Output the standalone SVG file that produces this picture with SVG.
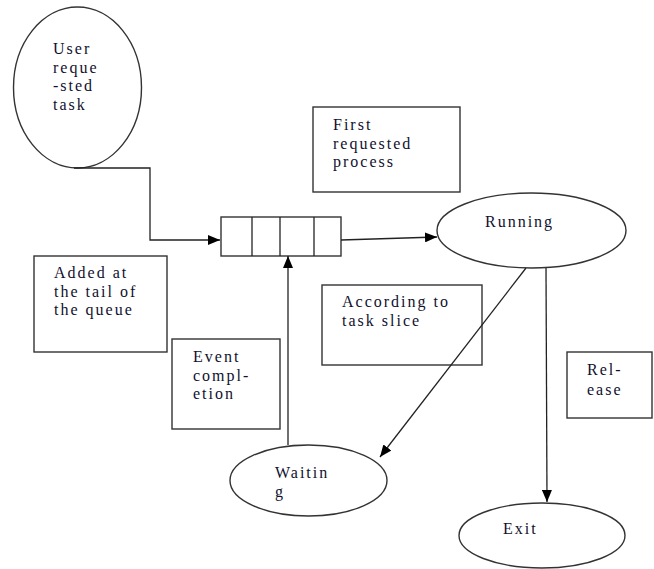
<svg xmlns="http://www.w3.org/2000/svg" width="654" height="569" viewBox="0 0 654 569">
<style>
.shape{fill:#fff;stroke:#333;stroke-width:1.4}
.line{fill:none;stroke:#222;stroke-width:1.3}
text{font-family:"Liberation Serif","Times New Roman",serif;font-size:16px;letter-spacing:2px;fill:#10102e}
</style>
<defs>
<marker id="arr" viewBox="0 0 12 10" refX="12" refY="5" markerWidth="12" markerHeight="10" markerUnits="userSpaceOnUse" orient="auto">
<path d="M0,0 L12,5 L0,10 Z" fill="#000"/>
</marker>
</defs>
<g id="user">
<ellipse class="shape" cx="77.5" cy="87.5" rx="64" ry="80.5"/>
<text x="53" y="54">User</text>
<text x="53" y="72.5">reque</text>
<text x="53" y="91">-sted</text>
<text x="53" y="109.5">task</text>
</g>
<g id="first">
<rect class="shape" x="313" y="107" width="147" height="85"/>
<text x="333" y="130">First</text>
<text x="333" y="148.5">requested</text>
<text x="333" y="167">process</text>
</g>
<g id="queue">
<rect class="shape" x="221" y="217" width="120" height="39"/>
<line class="line" x1="252" y1="217" x2="252" y2="256"/>
<line class="line" x1="280" y1="217" x2="280" y2="256"/>
<line class="line" x1="314" y1="217" x2="314" y2="256"/>
</g>
<g id="running">
<ellipse class="shape" cx="531.5" cy="230.5" rx="94.5" ry="37.5"/>
<text x="485" y="227">Running</text>
</g>
<g id="added">
<rect class="shape" x="34" y="256" width="133" height="96"/>
<text x="54" y="278">Added at</text>
<text x="54" y="296.5">the tail of</text>
<text x="54" y="315">the queue</text>
</g>
<g id="according">
<rect class="shape" x="322" y="285" width="160" height="80"/>
<text x="342" y="307">According to</text>
<text x="342" y="325.5">task slice</text>
</g>
<g id="event">
<rect class="shape" x="172" y="339" width="108" height="90"/>
<text x="193" y="362">Event</text>
<text x="193" y="380.5">compl-</text>
<text x="193" y="399">etion</text>
</g>
<g id="release">
<rect class="shape" x="567" y="352" width="85" height="66"/>
<text x="587" y="375">Rel-</text>
<text x="587" y="395">ease</text>
</g>
<g id="waiting">
<ellipse class="shape" cx="308.5" cy="480.5" rx="78.5" ry="35.5"/>
<text x="275" y="478">Waitin</text>
<text x="275" y="497">g</text>
</g>
<g id="exit">
<ellipse class="shape" cx="542" cy="535.5" rx="83" ry="32.5"/>
<text x="503" y="534">Exit</text>
</g>
<g id="connectors">
<polyline class="line" points="74,168 150,168 150,240 220,240" marker-end="url(#arr)"/>
<line class="line" x1="341" y1="240" x2="437" y2="237" marker-end="url(#arr)"/>
<line class="line" x1="526" y1="268" x2="380" y2="457" marker-end="url(#arr)"/>
<line class="line" x1="546" y1="268" x2="547" y2="502" marker-end="url(#arr)"/>
<line class="line" x1="288" y1="445" x2="288" y2="256" marker-end="url(#arr)"/>
</g>
</svg>
